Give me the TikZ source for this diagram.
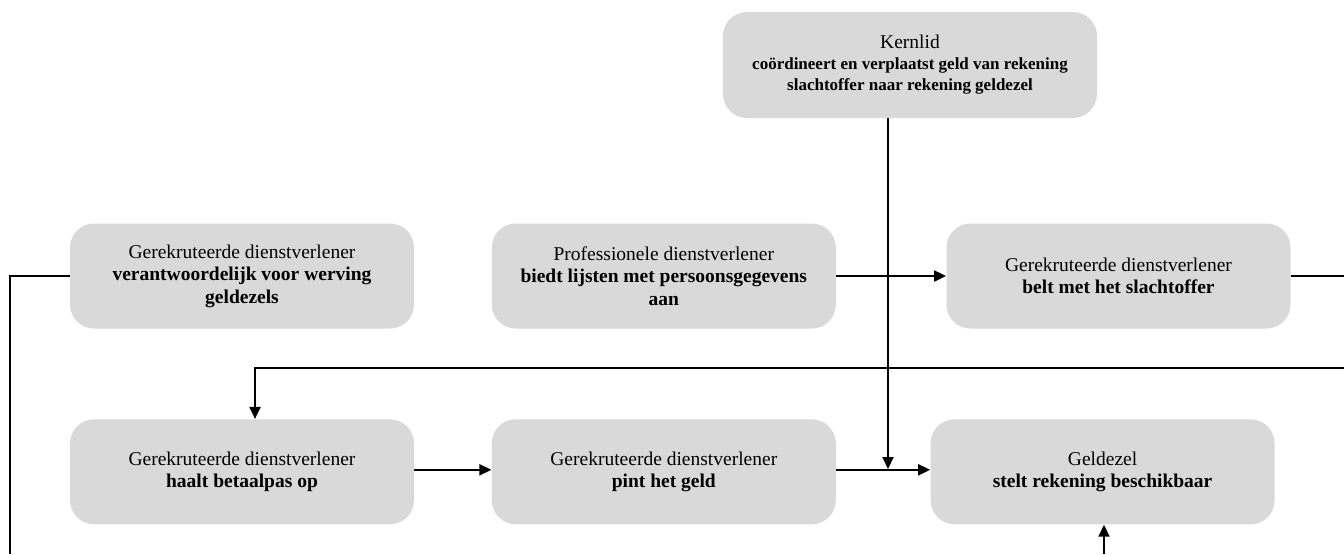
\documentclass[tikz,border=0pt]{standalone}
\usepackage{fontspec}
\setmainfont{Liberation Serif}
\usetikzlibrary{arrows.meta, positioning, calc}

\begin{document}
\begin{tikzpicture}[
        x=0.5pt, y=-0.5pt,
        node distance=45pt and 38.5pt,
        role/.style={rectangle, rounded corners=12pt, fill=black!15, minimum width=172pt, minimum height=52.5pt, align=center, inner sep=2pt, font=\fontsize{9.75pt}{11.25pt}\selectfont},
        kern/.style={role, minimum width=187pt, minimum height=53pt, font=\fontsize{8.5pt}{10.5pt}\selectfont},
        link/.style={line width=1pt},
        arrow/.style={link, -{Triangle[length=6pt, width=5.5pt]}}
    ]
        \useasboundingbox (0,0) rectangle (1344,554);

        \node[kern] (kernlid) at (910,65) {{\fontsize{9.75pt}{11pt}\selectfont Kernlid}\\\textbf{coördineert en verplaatst geld van rekening}\\\textbf{slachtoffer naar rekening geldezel}};

        \node[role] (werving) at (242,276) {Gerekruteerde dienstverlener\\\textbf{verantwoordelijk voor werving}\\\textbf{geldezels}};
        \node[role, right=of werving] (lijsten) {Professionele dienstverlener\\\textbf{biedt lijsten met persoonsgegevens}\\\textbf{aan}};
        \node[role] (belt) at (1118.5,276) {Gerekruteerde dienstverlener\\\textbf{belt met het slachtoffer}};

        \node[role, below=of werving] (betaalpas) {Gerekruteerde dienstverlener\\\textbf{haalt betaalpas op}};
        \node[role, below=of lijsten] (pinnen) {Gerekruteerde dienstverlener\\\textbf{pint het geld}};
        \node[role, right=47pt of pinnen] (geldezel) {Geldezel\\\textbf{stelt rekening beschikbaar}};

        % loose ends running off the picture
        \coordinate (merge) at (888,469);
        \coordinate (leftout) at (10,554);
        \coordinate (rightout) at (1344,276);
        \coordinate (rightin) at (1344,368);
        \coordinate (turn) at (255,368);
        \coordinate (bottomin) at (1104,554);

        \draw[arrow] (lijsten) -- (belt);
        \draw[arrow] ([yshift=1pt]betaalpas.east) -- ([yshift=1pt]pinnen.west);
        \draw[arrow] ([yshift=1pt]pinnen.east) -- ([yshift=1pt]geldezel.west);
        \draw[arrow] (merge |- kernlid.south) -- (merge);
        \draw[link] (belt.east) -- (rightout);
        \draw[link] (werving.west) -| (leftout);
        \draw[arrow] (rightin) -- (turn) -- (turn |- betaalpas.north);
        \draw[arrow] (bottomin) -- (bottomin |- geldezel.south);
    \end{tikzpicture}
\end{document}
